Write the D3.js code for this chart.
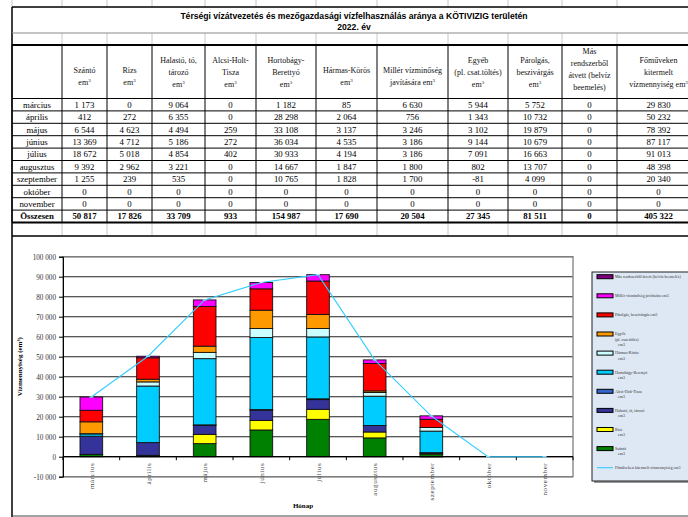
<!DOCTYPE html>
<html lang="hu">
<head>
<meta charset="UTF-8">
<title>Térségi vízátvezetés</title>
<style>
  body, html { margin: 0; padding: 0; background: #fff; }
  svg { display: block; }
  .serif { font-family: "Liberation Serif", "Times New Roman", serif; }
</style>
</head>
<body>
<svg id="svg" width="688" height="517"></svg>
<script src="https://d3js.org/d3.v7.min.js"></script>
<script>
const months = ['március', 'április', 'május', 'június', 'július', 'augusztus', 'szeptember', 'október', 'november']
const szanto    = [1173, 412, 6544, 13369, 18672, 9392, 1255, 0, 0]
const rizs      = [0, 272, 4623, 4712, 5018, 2962, 239, 0, 0]
const halasto   = [9064, 6355, 4494, 5186, 4854, 3221, 535, 0, 0]
const alcsi     = [0, 0, 259, 272, 402, 0, 0, 0, 0]
const hortobagy = [1182, 28298, 33108, 36034, 30933, 14667, 10765, 0, 0]
const harmas    = [85, 2064, 3137, 4535, 4194, 1847, 1828, 0, 0]
const miller    = [6630, 756, 3246, 3186, 3186, 1800, 1700, 0, 0]
const egyeb     = [5944, 1343, 3102, 9144, 7091, 802, -81, 0, 0]
const parolgas  = [5752, 10732, 19879, 10679, 16663, 13707, 4099, 0, 0]
const mas       = [0, 0, 0, 0, 0, 0, 0, 0, 0]
const fomuveken = [29830, 50232, 78392, 87117, 91013, 48398, 20340, 0, 0]
const yTicks = [-10000, 0, 10000, 20000, 30000, 40000, 50000, 60000, 70000, 80000, 90000, 100000]

// table columns in table order
const tableCols = [
  { head: ['Szántó', 'em³'], vals: szanto },
  { head: ['Rizs', 'em³'], vals: rizs },
  { head: ['Halastó, tó,', 'tározó', 'em³'], vals: halasto },
  { head: ['Alcsi-Holt-', 'Tisza', 'em³'], vals: alcsi },
  { head: ['Hortobágy-', 'Berettyó', 'em³'], vals: hortobagy },
  { head: ['Hármas-Körös', 'em³'], vals: harmas },
  { head: ['Millér vízminőség', 'javítására em³'], vals: miller },
  { head: ['Egyéb', '(pl. csat.töltés)', 'em³'], vals: egyeb },
  { head: ['Párolgás,', 'beszivárgás', 'em³'], vals: parolgas },
  { head: ['Más', 'rendszerből', 'átvett (belvíz', 'beemelés)'], vals: mas },
  { head: ['Főműveken', 'kitermelt', 'vízmennyiség em³'], vals: fomuveken }
]

// chart series, bottom of the stack first
const series = [
  { key: 'szanto', label: ['Szántó', 'em3'], vals: szanto, color: '#008000' },
  { key: 'rizs', label: ['Rizs', 'em3'], vals: rizs, color: '#ffff00' },
  { key: 'halasto', label: ['Halastó, tó, tározó', 'em3'], vals: halasto, color: '#333399' },
  { key: 'alcsi', label: ['Alcsi-Holt-Tisza', 'em3'], vals: alcsi, color: '#3366cc' },
  { key: 'hortobagy', label: ['Hortobágy-Berettyó', 'em3'], vals: hortobagy, color: '#00ccff' },
  { key: 'harmas', label: ['Hármas-Körös', 'em3'], vals: harmas, color: '#ccffff' },
  { key: 'egyeb', label: ['Egyéb', '(pl. csat.töltés)', 'em3'], vals: egyeb, color: '#ff9900' },
  { key: 'parolgas', label: ['Párolgás, beszivárgás em3'], vals: parolgas, color: '#ff0000' },
  { key: 'miller', label: ['Millér vízminőség javítására em3'], vals: miller, color: '#ff00ff' },
  { key: 'mas', label: ['Más rendszerből átvett (belvíz beemelés)'], vals: mas, color: '#800080' }
]

const loc = d3.formatLocale({ decimal: ',', thousands: ' ', grouping: [3], currency: ['', ''], minus: '-' })
const fmt = loc.format(',d')

const svg = d3.select('#svg')

// ---------- table ----------
const colX = [12, 62, 107, 152, 205, 256, 316, 377, 448, 508, 562, 617, 700]
const tTop = 7, tRow2 = 33, tHead = 45, tData = 98.5, rowH = 12.4
const tEnd = tData + rowH * (months.length + 1)
const tBlankEnd = 236

const tbl = svg.append('g')

// faint grid stubs above and in the blank rows
colX.forEach(x => {
  tbl.append('line').attr('x1', x).attr('x2', x).attr('y1', 0).attr('y2', tTop).attr('stroke', '#c8c8c8')
  tbl.append('line').attr('x1', x).attr('x2', x).attr('y1', tRow2).attr('y2', tHead).attr('stroke', '#c8c8c8')
  tbl.append('line').attr('x1', x).attr('x2', x).attr('y1', tEnd).attr('y2', tBlankEnd).attr('stroke', '#c8c8c8')
})

// black cell borders
colX.forEach(x => {
  tbl.append('line').attr('x1', x).attr('x2', x).attr('y1', tHead).attr('y2', tEnd).attr('stroke', '#000')
})
tbl.append('line').attr('x1', 12).attr('x2', 12).attr('y1', tTop).attr('y2', 517).attr('stroke', '#000').attr('stroke-width', 1.5)
d3.range(months.length + 1).forEach(i => {
  const y = tData + i * rowH
  tbl.append('line').attr('x1', 12).attr('x2', 700).attr('y1', y).attr('y2', y).attr('stroke', '#000')
})
tbl.append('line').attr('x1', 12).attr('x2', 700).attr('y1', tTop).attr('y2', tTop).attr('stroke', '#000').attr('stroke-width', 1.5)
tbl.append('line').attr('x1', 12).attr('x2', 700).attr('y1', tRow2).attr('y2', tRow2).attr('stroke', '#888')
tbl.append('line').attr('x1', 12).attr('x2', 700).attr('y1', tHead).attr('y2', tHead).attr('stroke', '#000').attr('stroke-width', 2)
tbl.append('line').attr('x1', 12).attr('x2', 700).attr('y1', tEnd).attr('y2', tEnd).attr('stroke', '#000').attr('stroke-width', 2)
tbl.append('line').attr('x1', 12).attr('x2', 700).attr('y1', tBlankEnd).attr('y2', tBlankEnd).attr('stroke', '#000').attr('stroke-width', 1.5)
tbl.append('line').attr('x1', 12).attr('x2', 700).attr('y1', 516).attr('y2', 516).attr('stroke', '#444').attr('stroke-width', 1)

// title
tbl.append('text').text('Térségi vízátvezetés és mezőgazdasági vízfelhasználás aránya a KÖTIVIZIG területén')
  .attr('x', 354).attr('y', 19).attr('text-anchor', 'middle')
  .attr('font-family', '"Liberation Sans", Arial, sans-serif').attr('font-weight', 'bold').attr('font-size', 8.6)
tbl.append('text').text('2022. év')
  .attr('x', 354).attr('y', 30).attr('text-anchor', 'middle')
  .attr('font-family', '"Liberation Sans", Arial, sans-serif').attr('font-weight', 'bold').attr('font-size', 8.6)

// header lines
const headY = { 2: [70, 82], 3: [60, 72, 84], 4: [51, 63, 75, 87] }
tableCols.forEach((c, i) => {
  const cx = (colX[i + 1] + colX[i + 2]) / 2
  c.head.forEach((line, j) => {
    const t = tbl.append('text').attr('class', 'serif')
      .attr('x', cx).attr('y', headY[c.head.length][j]).attr('dy', '0.35em')
      .attr('text-anchor', 'middle').attr('font-size', 8).attr('fill', '#111')
    if (line.endsWith('³')) {
      t.append('tspan').text(line.slice(0, -1))
      t.append('tspan').text('3').attr('font-size', 5).attr('dy', '-0.6em')
    } else {
      t.text(line)
    }
  })
})

// body rows
const rowLabels = months.concat(['Összesen'])
rowLabels.forEach((m, r) => {
  const y = tData + r * rowH + rowH / 2
  const bold = r === months.length
  tbl.append('text').attr('class', 'serif').text(m)
    .attr('x', 37).attr('y', y).attr('dy', '0.35em').attr('text-anchor', 'middle')
    .attr('font-size', 8.8).attr('font-weight', bold ? 'bold' : 'normal')
  tableCols.forEach((c, i) => {
    const v = bold ? d3.sum(c.vals) : c.vals[r]
    tbl.append('text').attr('class', 'serif').text(fmt(v))
      .attr('x', (colX[i + 1] + colX[i + 2]) / 2).attr('y', y).attr('dy', '0.35em')
      .attr('text-anchor', 'middle').attr('font-size', 8.8)
      .attr('font-weight', bold ? 'bold' : 'normal')
  })
})

// ---------- chart ----------
const x = d3.scaleBand().domain(months).range([63, 573]).paddingInner(0.6).paddingOuter(0.3)
const y = d3.scaleLinear().domain([-10000, 100000]).range([476.7, 256.7])

const chart = svg.append('g')

// gridlines
chart.selectAll('.grid').data(yTicks).join('line')
  .attr('x1', 63).attr('x2', 573)
  .attr('y1', d => y(d)).attr('y2', d => y(d))
  .attr('stroke', '#222').attr('stroke-width', 1.1)

// plot border
chart.append('rect').attr('x', 63).attr('y', y(100000)).attr('width', 510).attr('height', y(-10000) - y(100000))
  .attr('fill', 'none').attr('stroke', '#808080').attr('stroke-width', 1.3)

// y axis
const yAxis = chart.append('g').attr('transform', 'translate(63,0)')
  .call(d3.axisLeft(y).tickValues(yTicks).tickFormat(fmt).tickSize(4).tickPadding(3))
yAxis.select('.domain').attr('stroke', '#000')
yAxis.selectAll('text').attr('class', 'serif').attr('font-size', 7.2).attr('fill', '#333')

// stacked bars
const rows = months.map((m, i) => {
  const o = { month: m }
  series.forEach(s => { o[s.key] = s.vals[i] })
  return o
})
const stacked = d3.stack().keys(series.map(s => s.key)).offset(d3.stackOffsetDiverging)(rows)

stacked.forEach((layer, li) => {
  chart.append('g').selectAll('rect').data(layer.filter(d => d[1] !== d[0])).join('rect')
    .attr('x', d => x(d.data.month))
    .attr('width', x.bandwidth())
    .attr('y', d => y(Math.max(d[0], d[1])))
    .attr('height', d => Math.abs(y(d[0]) - y(d[1])))
    .attr('fill', series[li].color)
    .attr('stroke', '#111').attr('stroke-width', 0.9)
})

// x axis at zero with tick marks between categories
chart.append('line').attr('x1', 63).attr('x2', 573).attr('y1', y(0)).attr('y2', y(0))
  .attr('stroke', '#000').attr('stroke-width', 1.3)
d3.range(months.length + 1).forEach(k => {
  const tx = 63 + k * x.step()
  chart.append('line').attr('x1', tx).attr('x2', tx).attr('y1', y(0)).attr('y2', y(0) + 3.5)
    .attr('stroke', '#000')
})
chart.selectAll('.mlabel').data(months).join('text')
  .attr('class', 'serif').text(d => d)
  .attr('transform', d => `translate(${x(d) + x.bandwidth() / 2 + 2.5}, ${y(0) + 6}) rotate(-90)`)
  .attr('text-anchor', 'end').attr('font-size', 7).attr('fill', '#444').attr('letter-spacing', 0.6)

// line
const line = d3.line().x((d, i) => x(months[i]) + x.bandwidth() / 2).y(d => y(d))
chart.append('path').datum(fomuveken).attr('d', line)
  .attr('fill', 'none').attr('stroke', '#33ccff').attr('stroke-width', 1.1)
chart.selectAll('.mark').data(fomuveken).join('line')
  .attr('x1', (d, i) => x(months[i]) + x.bandwidth() / 2 - 2)
  .attr('x2', (d, i) => x(months[i]) + x.bandwidth() / 2 + 2)
  .attr('y1', d => y(d)).attr('y2', d => y(d))
  .attr('stroke', '#99e6ff').attr('stroke-width', 1.2)

// axis titles
chart.append('text').attr('class', 'serif').text('Vízmennyiség (em³)')
  .attr('transform', `translate(22, ${(y(100000) + y(-10000)) / 2}) rotate(-90)`)
  .attr('text-anchor', 'middle').attr('font-size', 7).attr('font-weight', 'bold')
chart.append('text').attr('class', 'serif').text('Hónap')
  .attr('x', 303).attr('y', 508).attr('text-anchor', 'middle')
  .attr('font-size', 7).attr('font-weight', 'bold')

// ---------- legend ----------
const lg = svg.append('g')
lg.append('rect').attr('x', 594).attr('y', 274).attr('width', 100).attr('height', 209).attr('fill', '#999')
lg.append('rect').attr('x', 592).attr('y', 272).attr('width', 100).attr('height', 209)
  .attr('fill', '#dde8f4').attr('stroke', '#222').attr('stroke-width', 1)

const legendItems = series.slice().reverse()
legendItems.forEach((s, i) => {
  const ly = 276.7 + i * 19.1
  lg.append('rect').attr('x', 597).attr('y', ly - 2).attr('width', 16).attr('height', 4)
    .attr('fill', s.color).attr('stroke', '#000').attr('stroke-width', 1)
  s.label.forEach((t, j) => {
    lg.append('text').attr('class', 'serif').text(t)
      .attr('x', j > 0 && s.label.length > 1 && t === 'em3' ? 618 : 615).attr('y', ly + 1.3 + j * 5.2)
      .attr('font-size', 4).attr('fill', '#333')
  })
})
const lineY = 276.7 + legendItems.length * 19.1
lg.append('line').attr('x1', 597).attr('x2', 613).attr('y1', lineY).attr('y2', lineY)
  .attr('stroke', '#33ccff').attr('stroke-width', 1.1)
lg.append('text').attr('class', 'serif').text('Főműveken kitermelt vízmennyiség em3')
  .attr('x', 615).attr('y', lineY + 1.3).attr('font-size', 4).attr('fill', '#333')
</script>
</body>
</html>
